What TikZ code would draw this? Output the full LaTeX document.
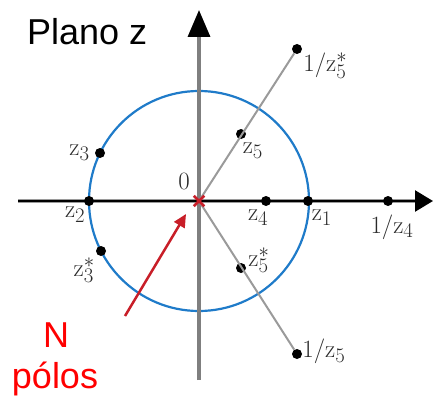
\documentclass[tikz,border=0pt]{standalone}
\usepackage{fontspec}
\newfontfamily\arialfont{Liberation Sans}
\usetikzlibrary{arrows.meta,positioning,shapes.misc}
\definecolor{CircBlue}{HTML}{1F7BC9}
\definecolor{AxGray}{HTML}{7F7F7F}
\definecolor{LnGray}{HTML}{9A9A9A}
\definecolor{PoleRed}{HTML}{C81E28}
\definecolor{TxtGray}{HTML}{2A2A2A}
\definecolor{LblRed}{HTML}{FF0000}

\begin{document}
\begin{tikzpicture}[x=1pt,y=-1pt,
    dot/.style={circle,fill=black,inner sep=0pt,minimum size=10pt},
    lbl/.style={inner sep=0pt,text=TxtGray,font=\Huge},
    ttl/.style={inner sep=0pt,font=\arialfont\fontsize{36}{36}\selectfont},
    pol/.style={ttl,text=LblRed}]
  \useasboundingbox (0,0) rectangle (435,398);
  \coordinate (O) at (199,201);
  % unit circle
  \draw[CircBlue,line width=2.2pt] (O) circle[radius=110];
  % axes
  \coordinate (xl) at (18,201);
  \coordinate (xr) at (433,201);
  \coordinate (yb) at (199,380);
  \coordinate (yt) at (199,10);
  \draw[LnGray,line width=4.5pt,shorten >=16pt] (xl) -- (xr);
  \draw[black,line width=2.5pt,-{Triangle[length=18pt,width=21pt]}] (xl) -- (xr);
  \draw[AxGray,line width=3.5pt,-{Triangle[length=27pt,width=22pt,color=black]}] (yb) -- (yt);
  % zeros
  \node[dot] (d1) at (308,201) {};
  \node[dot] (d2) at (89,201) {};
  \node[dot] (d3) at (100,153) {};
  \node[dot] (d3c) at (101,251) {};
  \node[dot] (d4) at (266,201) {};
  \node[dot] (d14) at (388,201) {};
  \node[dot] (d5) at (241,134) {};
  \node[dot] (d5c) at (241,268) {};
  \node[dot] (d15) at (297,354) {};
  \node[dot] (d15c) at (297,49) {};
  \draw[LnGray,line width=2pt] (O) -- (d15c);
  \draw[LnGray,line width=2pt] (O) -- (d15);
  % poles at origin
  \node[draw=PoleRed,cross out,line width=2.5pt,minimum size=8pt,inner sep=0pt] (pole) at (O) {};
  % labels
  \node[lbl, left=5pt of d3] {$\mathrm{z}_3$};
  \node[lbl, below left=2pt and 0pt of d2] {$\mathrm{z}_2$};
  \node[lbl, below left=2.5pt and 2.5pt of d3c] {$\mathrm{z}_3^*$};
  \node[lbl, below right=5pt and -2pt of d5] {$\mathrm{z}_5$};
  \node[lbl, below left=5pt and -6pt of d4] {$\mathrm{z}_4$};
  \node[lbl, right=2pt of d5c, yshift=8pt] {$\mathrm{z}_5^*$};
  \node[lbl, below right=5pt and 0pt of d1] {$\mathrm{z}_1$};
  \node[lbl, below=8pt of d14, xshift=4pt] {$1/\mathrm{z}_4$};
  \node[lbl, right=1pt of d15c, anchor=north west, yshift=-4pt] {$1/\mathrm{z}_5^*$};
  \node[lbl, right=0pt of d15, yshift=3pt] {$1/\mathrm{z}_5$};
  \node[lbl, above left=11pt and 9pt of O] {$0$};
  % titles
  \node[ttl, anchor=base west] (plano) at (27,45) {Plano z};
  \node[pol, anchor=base] (N) at (56,347) {N};
  \node[pol, anchor=base] (polos) at (55,388) {pólos};
  % arrow to the poles
  \coordinate (ptail) at (125,316);
  \coordinate (ptip) at (186,214);
  \draw[PoleRed,line width=2.5pt,-{Triangle[length=13pt,width=12pt]}] (ptail) -- (ptip);
\end{tikzpicture}
\end{document}
